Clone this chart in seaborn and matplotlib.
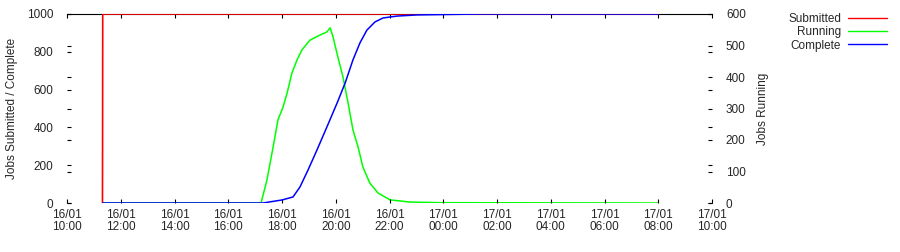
import matplotlib
matplotlib.use("Agg")
import matplotlib.pyplot as plt
import seaborn as sns
import pandas as pd
from matplotlib.lines import Line2D

sns.set_style("white")
plt.rcParams['font.family'] = ['Liberation Sans', 'DejaVu Sans']

# hours since 16/01 10:00
submitted_h = [1.32, 1.33, 22.0]
submitted_v = [0, 1000, 1000]

running_h = [1.33, 7.22, 7.44, 7.67, 7.85, 8.04, 8.19, 8.37, 8.56, 8.74, 9.04, 9.41,
             9.67, 9.79, 9.90, 10.08, 10.27, 10.46, 10.64, 10.83, 11.01, 11.27,
             11.57, 12.02, 12.76, 13.88, 22.0]
running_v = [0, 0, 73, 178, 264, 305, 349, 413, 454, 486, 517, 533,
             543, 556, 527, 463, 400, 317, 232, 178, 114, 63,
             32, 10, 3, 1, 0]

complete_h = [1.33, 7.29, 8.0, 8.41, 8.67, 8.97, 9.30, 9.67, 10.05, 10.35, 10.64,
              10.90, 11.16, 11.46, 11.76, 12.28, 13.02, 15.37, 22.0]
complete_v = [0, 0, 16, 32, 85, 175, 280, 402, 529, 635, 757,
              847, 915, 958, 979, 989, 995, 1000, 1000]

xtick_h = [0, 2, 4, 6, 8, 10, 12, 14, 16, 18, 20, 22, 24]
xtick_labels = ["16/01\n10:00", "16/01\n12:00", "16/01\n14:00", "16/01\n16:00",
                "16/01\n18:00", "16/01\n20:00", "16/01\n22:00", "17/01\n00:00",
                "17/01\n02:00", "17/01\n04:00", "17/01\n06:00", "17/01\n08:00",
                "17/01\n10:00"]
series_names = ["Submitted", "Running", "Complete"]
series_colors = ["#ff0000", "#00ff00", "#0000ff"]

fig = plt.figure(figsize=(9, 2.52), dpi=100)
ax = fig.add_axes([67/900, 1-203/252, (712-67)/900, (203-14)/252])
ax2 = ax.twinx()

sns.lineplot(x=submitted_h, y=submitted_v, ax=ax, color=series_colors[0], lw=1.2)
sns.lineplot(x=running_h, y=running_v, ax=ax2, color=series_colors[1], lw=1.1)
sns.lineplot(x=complete_h, y=complete_v, ax=ax, color=series_colors[2], lw=1.1, zorder=5)
ax.set_zorder(ax2.get_zorder() + 1)
ax.patch.set_visible(False)

ax.set_xlim(0, 24)
ax.set_ylim(0, 1000)
ax2.set_ylim(0, 600)
ax.set_xticks(xtick_h)
ax.set_xticklabels(xtick_labels)
ax.set_yticks(range(0, 1001, 200))
ax2.set_yticks(range(0, 601, 100))

for a in (ax, ax2):
    for s in ("left", "right", "bottom", "top"):
        a.spines[s].set_visible(False)
ax2.spines["top"].set_visible(True)
ax2.spines["top"].set_color("black")
ax2.spines["top"].set_linewidth(0.8)

fs = 8.5
ax.tick_params(axis="x", direction="in", length=3, top=True, bottom=True,
               labelsize=fs, pad=4, color="black")
ax.tick_params(axis="y", direction="in", length=3, left=True, right=True,
               labelsize=fs, pad=10, color="black")
ax2.tick_params(axis="y", direction="in", length=3, right=True, left=True,
                labelsize=fs, pad=10, color="black")
for lab in ax.get_xticklabels():
    lab.set_linespacing(1.1)

ax.set_ylabel("Jobs Submitted / Complete", fontsize=fs, labelpad=6)
ax2.set_ylabel("Jobs Running", fontsize=fs, labelpad=8)
ax.set_xlabel("")

handles = [Line2D([], [], color=c, lw=1) for c in series_colors]
fig.legend(handles, series_names, loc="upper right", bbox_to_anchor=(892/900, 1-8/252),
           frameon=False, markerfirst=False, fontsize=fs, handlelength=3.3,
           handletextpad=0.6, labelspacing=0.12, borderaxespad=0)

fig.savefig("out.png", dpi=100)
